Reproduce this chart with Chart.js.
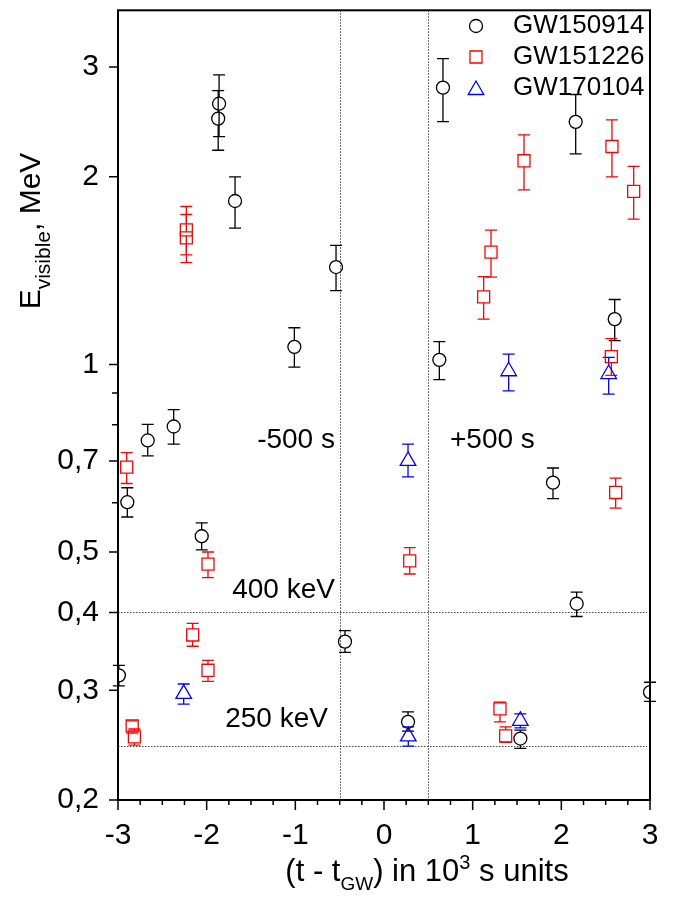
<!DOCTYPE html>
<html>
<head>
<meta charset="utf-8">
<script src="https://cdn.jsdelivr.net/npm/chart.js@4.4.0/dist/chart.umd.min.js"></script>
<style>
  html, body { margin: 0; padding: 0; background: #fff; }
  #wrap { width: 683px; height: 899px; position: relative; }
</style>
</head>
<body>
<div id="wrap"><canvas id="chart"></canvas></div>
<script>
/* ---- data ---- */
const seriesNames = ["GW150914", "GW151226", "GW170104"];

// GW150914 (circles)
const gw150914X  = [-2.99, -2.895, -2.665, -2.372, -2.056, -1.86, -1.87, -1.68, -1.011, -0.541, -0.44, 0.271, 0.624, 0.665, 1.538, 1.906, 2.162, 2.173, 2.602, 3.0];
const gw150914Y  = [0.317, 0.601, 0.755, 0.795, 0.530, 2.62, 2.48, 1.829, 1.067, 1.433, 0.359, 0.267, 1.017, 2.78, 0.251, 0.646, 2.45, 0.413, 1.182, 0.298];
const gw150914Lo = [0.305, 0.569, 0.713, 0.745, 0.504, 2.32, 2.206, 1.654, 0.990, 1.313, 0.345, 0.258, 0.945, 2.453, 0.242, 0.609, 2.177, 0.394, 1.092, 0.288];
const gw150914Hi = [0.329, 0.634, 0.801, 0.846, 0.557, 2.915, 2.75, 2.0, 1.145, 1.552, 0.374, 0.277, 1.088, 3.096, 0.259, 0.682, 2.711, 0.431, 1.271, 0.309];

// GW151226 (squares)
const gw151226X  = [-2.902, -2.84, -2.815, -2.229, -2.229, -2.158, -1.985, -1.985, 0.29, 1.124, 1.207, 1.308, 1.372, 1.579, 2.564, 2.571, 2.613, 2.816];
const gw151226Y  = [0.684, 0.263, 0.2525, 1.644, 1.596, 0.368, 0.478, 0.323, 0.484, 1.283, 1.514, 0.280, 0.2535, 2.122, 1.029, 2.237, 0.623, 1.895];
const gw151226Lo = [0.644, 0.256, 0.245, 1.499, 1.456, 0.353, 0.455, 0.310, 0.461, 1.182, 1.381, 0.267, 0.2474, 1.905, 0.96, 2.0, 0.588, 1.711];
const gw151226Hi = [0.722, 0.268, 0.260, 1.792, 1.740, 0.384, 0.500, 0.335, 0.508, 1.383, 1.642, 0.287, 0.262, 2.335, 1.10, 2.468, 0.657, 2.078];

// GW170104 (triangles)
const gw170104X  = [-2.259, 0.271, 0.274, 1.406, 1.538, 2.534];
const gw170104Y  = [0.296, 0.70, 0.253, 0.975, 0.268, 0.965];
const gw170104Lo = [0.285, 0.660, 0.244, 0.907, 0.261, 0.896];
const gw170104Hi = [0.307, 0.745, 0.262, 1.039, 0.275, 1.026];

// axes
const xTickValues = [-3, -2, -1, 0, 1, 2, 3];
const xMinorTicks = [-2.75, -2.5, -2.25, -1.75, -1.5, -1.25, -0.75, -0.5, -0.25, 0.25, 0.5, 0.75, 1.25, 1.5, 1.75, 2.25, 2.5, 2.75];
const yTickValues = [0.2, 0.3, 0.4, 0.5, 0.7, 1, 2, 3];
const yMinorTicks = [0.6, 0.8, 0.9];

// reference lines and notes
const vLines = [-0.5, 0.5];
const hLines = [0.4, 0.244];
const noteText  = ["-500 s", "+500 s", "400 keV", "250 keV"];
const noteX     = [-0.553, 0.744, -0.553, -0.632];
const noteY     = [0.733, 0.733, 0.422, 0.2616];
const noteAlign = ["right", "left", "right", "right"];

/* ---- helpers ---- */
const FONT = '"Liberation Sans", Arial, Helvetica, sans-serif';
const colors = ["#000000", "#ff0000", "#0000ff"];

function pts(xs, ys) { return xs.map((x, i) => ({ x: x, y: ys[i] })); }

// rich text: parts [{t, size, dy}] drawn from x along baseline y
function richWidth(ctx, parts) {
  let w = 0;
  parts.forEach(p => { ctx.font = p.size + "px " + FONT; w += ctx.measureText(p.t).width; });
  return w;
}
function drawRich(ctx, parts, x, y) {
  parts.forEach(p => {
    ctx.font = p.size + "px " + FONT;
    ctx.fillText(p.t, x, y + (p.dy || 0));
    x += ctx.measureText(p.t).width;
  });
}

const errLo = [gw150914Lo, gw151226Lo, gw170104Lo];
const errHi = [gw150914Hi, gw151226Hi, gw170104Hi];
// marker half-sizes above/below centre, for gaps in error bars
const gapUp = [6.5, 6, 9];
const gapDn = [6.5, 6, 4.5];

const decorPlugin = {
  id: "decor",
  beforeDatasetsDraw(chart) {
    const ctx = chart.ctx, a = chart.chartArea;
    const xs = chart.scales.x, ys = chart.scales.y;
    ctx.save();
    // dotted reference lines
    ctx.strokeStyle = "#444";
    ctx.lineWidth = 1;
    ctx.setLineDash([1.5, 1.5]);
    vLines.forEach(v => {
      const px = Math.round(xs.getPixelForValue(v)) + 0.5;
      ctx.beginPath(); ctx.moveTo(px, a.top); ctx.lineTo(px, a.bottom); ctx.stroke();
    });
    hLines.forEach(v => {
      const py = Math.round(ys.getPixelForValue(v)) + 0.5;
      ctx.beginPath(); ctx.moveTo(a.left, py); ctx.lineTo(a.right - 3, py); ctx.stroke();
    });
    ctx.setLineDash([]);

    // error bars
    chart.data.datasets.forEach((ds, di) => {
      ctx.strokeStyle = colors[di];
      ctx.lineWidth = 1.3;
      ds.data.forEach((p, i) => {
        const px = xs.getPixelForValue(p.x);
        const py = ys.getPixelForValue(p.y);
        const pHi = ys.getPixelForValue(errHi[di][i]);
        const pLo = ys.getPixelForValue(errLo[di][i]);
        ctx.beginPath();
        if (pHi < py - gapUp[di]) { ctx.moveTo(px, pHi); ctx.lineTo(px, py - gapUp[di]); }
        if (pLo > py + gapDn[di]) { ctx.moveTo(px, py + gapDn[di]); ctx.lineTo(px, pLo); }
        ctx.moveTo(px - 6, pHi); ctx.lineTo(px + 6, pHi);
        ctx.moveTo(px - 6, pLo); ctx.lineTo(px + 6, pLo);
        ctx.stroke();
      });
    });
    ctx.restore();
  },
  afterDraw(chart) {
    const ctx = chart.ctx, a = chart.chartArea;
    const xs = chart.scales.x, ys = chart.scales.y;
    ctx.save();

    // frame
    ctx.strokeStyle = "#000";
    ctx.lineWidth = 2;
    ctx.strokeRect(a.left, a.top, a.right - a.left, a.bottom - a.top);

    // outward ticks
    ctx.lineWidth = 1.5;
    ctx.beginPath();
    xTickValues.forEach(v => { const px = xs.getPixelForValue(v); ctx.moveTo(px, a.bottom); ctx.lineTo(px, a.bottom + 10); });
    xMinorTicks.forEach(v => { const px = xs.getPixelForValue(v); ctx.moveTo(px, a.bottom); ctx.lineTo(px, a.bottom + 5); });
    yTickValues.forEach(v => { const py = ys.getPixelForValue(v); ctx.moveTo(a.left, py); ctx.lineTo(a.left - 9, py); });
    yMinorTicks.forEach(v => { const py = ys.getPixelForValue(v); ctx.moveTo(a.left, py); ctx.lineTo(a.left - 6, py); });
    ctx.stroke();

    // notes
    ctx.fillStyle = "#000";
    ctx.textBaseline = "alphabetic";
    ctx.font = "28px " + FONT;
    noteText.forEach((t, i) => {
      ctx.textAlign = noteAlign[i];
      ctx.fillText(t, xs.getPixelForValue(noteX[i]), ys.getPixelForValue(noteY[i]));
    });

    // legend
    const styles = ["circle", "rect", "triangle"];
    const radii = [6.5, 8.5, 9];
    ctx.textAlign = "left";
    ctx.textBaseline = "middle";
    ctx.font = "26px " + FONT;
    seriesNames.forEach((name, i) => {
      const ly = 26 + i * 31;
      ctx.strokeStyle = colors[i];
      ctx.fillStyle = "rgba(0,0,0,0)";
      ctx.lineWidth = 1.3;
      Chart.helpers.drawPoint(ctx, { pointStyle: styles[i], radius: radii[i], rotation: 0, borderWidth: 1.3 }, 476, i === 2 ? ly + 2 : ly);
      ctx.fillStyle = "#000";
      ctx.fillText(name, 513, ly);
    });

    // x title
    ctx.textBaseline = "alphabetic";
    const xParts = [
      { t: "(t - t", size: 31 },
      { t: "GW", size: 19, dy: 9 },
      { t: ") in 10", size: 31 },
      { t: "3", size: 20, dy: -12 },
      { t: " s units", size: 31 }
    ];
    const xw = richWidth(ctx, xParts);
    drawRich(ctx, xParts, (a.left + a.right) / 2 - xw / 2 + 43, 881);

    // y title
    const yParts = [
      { t: "E", size: 30 },
      { t: "visible", size: 21, dy: 10 },
      { t: ", MeV", size: 30 }
    ];
    const yw = richWidth(ctx, yParts);
    ctx.translate(40, 231);
    ctx.rotate(-Math.PI / 2);
    drawRich(ctx, yParts, -yw / 2, 0);
    ctx.restore();
  }
};

new Chart(document.getElementById("chart"), {
  type: "scatter",
  data: {
    datasets: [
      { label: seriesNames[0], data: pts(gw150914X, gw150914Y), pointStyle: "circle", pointRadius: 6.5,
        borderColor: colors[0], backgroundColor: "rgba(0,0,0,0)", pointBorderWidth: 1.3 },
      { label: seriesNames[1], data: pts(gw151226X, gw151226Y), pointStyle: "rect", pointRadius: 8.5,
        borderColor: colors[1], backgroundColor: "rgba(0,0,0,0)", pointBorderWidth: 1.3 },
      { label: seriesNames[2], data: pts(gw170104X, gw170104Y), pointStyle: "triangle", pointRadius: 9,
        borderColor: colors[2], backgroundColor: "rgba(0,0,0,0)", pointBorderWidth: 1.3 }
    ]
  },
  options: {
    responsive: true,
    maintainAspectRatio: false,
    animation: false,
    events: [],
    layout: { padding: { top: 7, right: 33, left: 0, bottom: 0 } },
    plugins: { legend: { display: false }, tooltip: { enabled: false } },
    scales: {
      x: {
        type: "linear", min: -3, max: 3,
        grid: { display: false, drawTicks: false },
        border: { display: false },
        afterBuildTicks: s => { s.ticks = xTickValues.map(v => ({ value: v })); },
        afterFit: s => { s.height = 99; s.paddingLeft = 0; s.paddingRight = 0; },
        ticks: { autoSkip: false, maxRotation: 0, padding: 18, color: "#000",
                 font: { family: FONT, size: 30 }, callback: v => String(v) }
      },
      y: {
        type: "logarithmic", min: 0.2, max: 3.7,
        grid: { display: false, drawTicks: false },
        border: { display: false },
        afterBuildTicks: s => { s.ticks = yTickValues.map(v => ({ value: v })); },
        afterFit: s => { s.width = 118; s.paddingTop = 0; s.paddingBottom = 0; },
        ticks: { autoSkip: false, padding: 19, color: "#000",
                 font: { family: FONT, size: 30 }, callback: v => String(v).replace(".", ",") }
      }
    }
  },
  plugins: [decorPlugin]
});
</script>
</body>
</html>
